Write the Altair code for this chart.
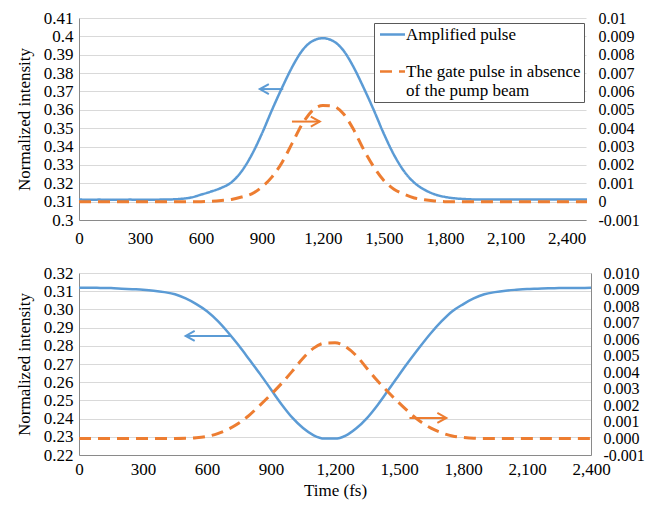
import altair as alt
import pandas as pd

# ---------------- data ----------------
top_time = list(range(0, 2501, 50))
top_amplified = [
    0.3112, 0.3110, 0.3111, 0.3110, 0.3110, 0.3111, 0.3110, 0.3110, 0.3111, 0.3112,
    0.3115, 0.3122, 0.3138, 0.3155, 0.3175, 0.3205, 0.3265, 0.3355, 0.3470, 0.3600,
    0.3722, 0.3835, 0.3925, 0.3975, 0.3990, 0.3975, 0.3925, 0.3835, 0.3722, 0.3600,
    0.3470, 0.3355, 0.3265, 0.3203, 0.3165, 0.3140, 0.3126, 0.3118, 0.3114, 0.3112,
    0.3112, 0.3112, 0.3112, 0.3112, 0.3112, 0.3112, 0.3112, 0.3112, 0.3112, 0.3112,
    0.3112,
]
top_gate = [
    0, 0, 0, 0, 0, 0, 0, 0, 0, 0, 0, 0, 0,
    0.00002, 0.00006, 0.00012, 0.00025, 0.00042, 0.00080, 0.00135, 0.00215, 0.00320,
    0.00425, 0.00498, 0.00524, 0.00520, 0.00480, 0.00395, 0.00285, 0.00190, 0.00115,
    0.00068, 0.00040, 0.00020, 0.00010, 0.00004,
    0, 0, 0, 0, 0, 0, 0, 0, 0, 0, 0, 0, 0, 0, 0,
]

bottom_time = list(range(0, 2401, 50))
bottom_amplified = [
    0.3119, 0.3119, 0.3118, 0.3117, 0.3114, 0.3111, 0.3108, 0.3103, 0.3095, 0.3083,
    0.3060, 0.3029, 0.2990, 0.2937, 0.2872, 0.2800, 0.2722, 0.2643, 0.2560, 0.2478,
    0.2405, 0.2348, 0.2308, 0.2290, 0.2290, 0.2307, 0.2347, 0.2403, 0.2475, 0.2557,
    0.2640, 0.2720, 0.2797, 0.2870, 0.2935, 0.2990, 0.3028, 0.3060, 0.3083, 0.3095,
    0.3103, 0.3108, 0.3112, 0.3114, 0.3116, 0.3117, 0.3118, 0.3118, 0.3119,
]
bottom_gate = [
    0, 0, 0, 0, 0, 0, 0, 0, 0, 0,
    0.00001, 0.00004, 0.00012, 0.00029, 0.00056, 0.00093, 0.00143, 0.00203, 0.00266,
    0.00333, 0.00407, 0.00485, 0.00546, 0.00576, 0.00578, 0.00554, 0.00500, 0.00423,
    0.00347, 0.00279, 0.00215, 0.00155, 0.00102, 0.00062, 0.00034, 0.00015, 0.00006,
    0.00001,
    0, 0, 0, 0, 0, 0, 0, 0, 0, 0, 0,
]

series_names = ["Amplified pulse", "The gate pulse in absence of the pump beam"]

x_ticks = [0, 300, 600, 900, 1200, 1500, 1800, 2100, 2400]
top_left_ticks = [0.3, 0.31, 0.32, 0.33, 0.34, 0.35, 0.36, 0.37, 0.38, 0.39, 0.4, 0.41]
top_right_ticks = [-0.001, 0, 0.001, 0.002, 0.003, 0.004, 0.005, 0.006, 0.007, 0.008, 0.009, 0.01]
bottom_left_ticks = [0.22, 0.23, 0.24, 0.25, 0.26, 0.27, 0.28, 0.29, 0.30, 0.31, 0.32]
bottom_right_ticks = [-0.001, 0, 0.001, 0.002, 0.003, 0.004, 0.005, 0.006, 0.007, 0.008, 0.009, 0.010]

# arrows: [blue (left axis), orange (right axis)]
top_arrow_tail = [1005, 1048]
top_arrow_head = [890, 1185]
top_arrow_level = [0.3713, 0.00436]
bottom_arrow_tail = [716, 1549]
bottom_arrow_head = [500, 1722]
bottom_arrow_level = [0.2854, 0.00124]

# ---------------- styling ----------------
FONT = "Times New Roman"
FS = 17
RFS = 16
BLUE = "#5B9BD5"
ORANGE = "#ED7D31"
AXIS_GRAY = "#8A8A8A"
GRID = "#D9D9D9"
DASH = [12, 7]
LEFT_HEAD = "M 1.8 -1 L 0 0 L 1.8 1"
RIGHT_HEAD = "M -1.8 -1 L 0 0 L -1.8 1"

right_expr_top = "datum.value < 0 ? '-' + format(-datum.value, '.3~f') : format(datum.value, '.3~f')"
right_expr_bottom = "datum.value < 0 ? '-' + format(-datum.value, '.3f') : format(datum.value, '.3f')"

TEXT = dict(labelFont=FONT, labelColor="#000000",
            titleFont=FONT, titleFontSize=FS, titleFontWeight="normal", titleColor="#000000",
            ticks=False, labelOverlap=False)


def arrow_layers(tail, head, level, field, x_enc, y_enc, color, shape):
    shaft_df = pd.DataFrame({"time": [tail], "time2": [head], field: [level]})
    head_df = pd.DataFrame({"time": [head], field: [level]})
    shaft = alt.Chart(shaft_df).mark_rule(color=color, strokeWidth=2).encode(
        x=x_enc, x2="time2:Q", y=y_enc
    )
    tip = alt.Chart(head_df).mark_point(
        shape=shape, size=100, filled=False, strokeWidth=2, color=color, opacity=1
    ).encode(x=x_enc, y=y_enc)
    return [shaft, tip]


# ---------------- top panel ----------------
top_df = pd.DataFrame({"time": top_time, "amp": top_amplified, "gate": top_gate})

x_top = alt.X(
    "time:Q",
    scale=alt.Scale(domain=[0, 2495], nice=False, zero=False),
    axis=alt.Axis(values=x_ticks, format=",d", title=None, grid=False, labelFontSize=FS,
                  domainColor=AXIS_GRAY, labelPadding=10, labelFlush=False, **TEXT),
)
y_top_left = alt.Y(
    "amp:Q",
    scale=alt.Scale(domain=[0.3, 0.41], nice=False, zero=False),
    axis=alt.Axis(orient="left", values=top_left_ticks, labelFontSize=FS,
                  labelExpr="format(datum.value, '.2~f')",
                  title="Normalized intensity", grid=True, gridColor=GRID,
                  domainColor=AXIS_GRAY, labelPadding=6, titlePadding=10, **TEXT),
)
y_top_right = alt.Y(
    "gate:Q",
    scale=alt.Scale(domain=[-0.001, 0.01], nice=False, zero=False),
    axis=alt.Axis(orient="right", values=top_right_ticks, labelExpr=right_expr_top,
                  labelFontSize=RFS, title=None, grid=False, domain=False,
                  labelPadding=12, **TEXT),
)

legend = alt.Legend(
    orient="none", legendX=295, legendY=5,
    symbolType="M -2.5 0 H 2.5", symbolSize=100, symbolStrokeWidth=2.5,
    symbolOffset=7, labelOffset=5,
    labelFont=FONT, labelFontSize=FS, labelColor="#000000", labelLimit=400,
    strokeColor="#595959", fillColor="white", padding=3,
    rowPadding=19, gridAlign="none",
    labelExpr=("datum.label == 'The gate pulse in absence of the pump beam' ? "
               "['The gate pulse in absence', 'of the pump beam'] : datum.label"),
)
color_enc = alt.Color("series:N", scale=alt.Scale(domain=series_names, range=[BLUE, ORANGE]),
                      legend=legend, title=None)
dash_enc = alt.StrokeDash("series:N", scale=alt.Scale(domain=series_names, range=[[1, 0], DASH]),
                          legend=legend, title=None)

blue_top = alt.Chart(top_df).transform_calculate(series="'Amplified pulse'").mark_line(
    strokeWidth=2.5, interpolate="monotone"
).encode(x=x_top, y=y_top_left, color=color_enc, strokeDash=dash_enc)

orange_top = alt.Chart(top_df).transform_calculate(
    series="'The gate pulse in absence of the pump beam'"
).mark_line(strokeWidth=3, interpolate="monotone").encode(
    x=x_top, y=y_top_right, color=color_enc, strokeDash=dash_enc
)

top_left_group = alt.layer(
    blue_top,
    *arrow_layers(top_arrow_tail[0], top_arrow_head[0], top_arrow_level[0], "amp",
                  x_top, y_top_left, BLUE, LEFT_HEAD),
)
top_right_group = alt.layer(
    orange_top,
    *arrow_layers(top_arrow_tail[1], top_arrow_head[1], top_arrow_level[1], "gate",
                  x_top, y_top_right, ORANGE, RIGHT_HEAD),
)
top_panel = alt.layer(top_left_group, top_right_group).resolve_scale(
    y="independent"
).properties(width=507, height=202)

# ---------------- bottom panel ----------------
bottom_df = pd.DataFrame({"time": bottom_time, "amp": bottom_amplified, "gate": bottom_gate})

x_bot = alt.X(
    "time:Q",
    scale=alt.Scale(domain=[0, 2400], nice=False, zero=False),
    axis=alt.Axis(values=x_ticks, format=",d", title="Time (fs)", grid=False, labelFontSize=FS,
                  domainColor=AXIS_GRAY, labelPadding=6, titlePadding=5, labelFlush=False, **TEXT),
)
y_bot_left = alt.Y(
    "amp:Q",
    scale=alt.Scale(domain=[0.22, 0.32], nice=False, zero=False),
    axis=alt.Axis(orient="left", values=bottom_left_ticks, labelFontSize=FS,
                  labelExpr="format(datum.value, '.2f')",
                  title="Normalized intensity", grid=True, gridColor=GRID,
                  domainColor=AXIS_GRAY, labelPadding=6, titlePadding=10, **TEXT),
)
y_bot_right = alt.Y(
    "gate:Q",
    scale=alt.Scale(domain=[-0.001, 0.010], nice=False, zero=False),
    axis=alt.Axis(orient="right", values=bottom_right_ticks, labelExpr=right_expr_bottom,
                  labelFontSize=RFS, title=None, grid=False, domain=True,
                  domainColor=AXIS_GRAY, labelPadding=12, **TEXT),
)

blue_bot = alt.Chart(bottom_df).mark_line(strokeWidth=2.5, color=BLUE, interpolate="monotone").encode(
    x=x_bot, y=y_bot_left
)
orange_bot = alt.Chart(bottom_df).mark_line(
    strokeWidth=3, color=ORANGE, strokeDash=DASH, interpolate="monotone"
).encode(x=x_bot, y=y_bot_right)

bot_left_group = alt.layer(
    blue_bot,
    *arrow_layers(bottom_arrow_tail[0], bottom_arrow_head[0], bottom_arrow_level[0], "amp",
                  x_bot, y_bot_left, BLUE, LEFT_HEAD),
)
bot_right_group = alt.layer(
    orange_bot,
    *arrow_layers(bottom_arrow_tail[1], bottom_arrow_head[1], bottom_arrow_level[1], "gate",
                  x_bot, y_bot_right, ORANGE, RIGHT_HEAD),
)
bottom_panel = alt.layer(bot_left_group, bot_right_group).resolve_scale(
    y="independent"
).properties(width=512, height=182)

chart = alt.vconcat(top_panel, bottom_panel, spacing=18).configure(
    font=FONT,
    padding={"left": 15, "top": 9, "right": 2, "bottom": 4},
    background="white",
).configure_axis(
    labelFont=FONT, titleFont=FONT, titleFontSize=FS,
    titleFontWeight="normal", ticks=False, domainWidth=1,
).configure_view(stroke=None)

chart.save("out.html", embed_options={"renderer": "svg", "actions": False})
